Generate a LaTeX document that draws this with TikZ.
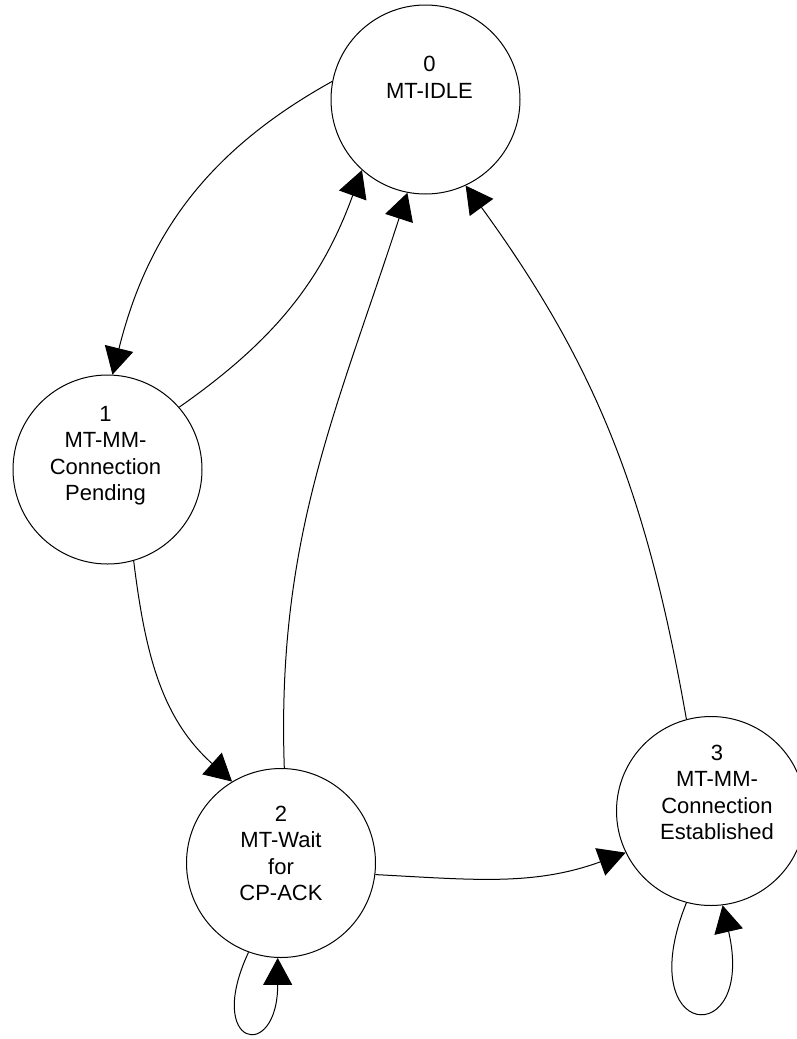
\documentclass[tikz,border=0pt]{standalone}
\usepackage{fontspec}
\setmainfont{Liberation Sans}
\usepackage{tikz}
\usetikzlibrary{arrows.meta,positioning}
\tikzstyle{statenode}=[draw,circle,minimum size=94.5pt,inner sep=0pt,line width=0.5pt]
\tikzstyle{statetext}=[align=center,inner sep=0pt,font=\fontsize{11}{13.25}\selectfont]
\tikzstyle{trans}=[line width=0.5pt,-{Triangle[length=13.5pt,width=14.5pt]}]

\begin{document}
\begin{tikzpicture}[x=0.5pt,y=0.5pt]
\useasboundingbox (0,0) rectangle (797,-1039);
% states
\node [statenode] (s0) at (425.5,-99.5) {};
\node [statenode] (s1) at (107.5,-469.5) {};
\node [statenode] (s2) at (281,-863) {};
\node [statenode] (s3) at (711,-811) {};
\node [statetext] (t0) at ([xshift=2pt,yshift=11pt]s0.center) {0\\MT-IDLE};
\node [statetext] (t1) at ([xshift=-1pt,yshift=7pt]s1.center) {1\\MT-MM-\\Connection\\Pending};
\node [statetext] (t2) at ([yshift=4.75pt]s2.center) {2\\MT-Wait\\for\\CP-ACK};
\node [statetext] (t3) at ([xshift=3pt,yshift=9.2pt]s3.center) {3\\MT-MM-\\Connection\\Established};
% transitions
\draw [trans] (s0.169) to[out=209,in=76] (s1.87);
\draw [trans] (s1.41) to[out=35,in=250] (s0.228);
\draw [trans] (s1.286) to[out=277,in=138] (s2.121);
\draw [trans] (s2.88) to[out=92,in=252] (s0.259);
\draw [trans] (s3.105) to[out=100,in=306] (s0.295);
\draw [trans] (s2.353) to[out=357,in=200] (s3.206);
\draw [trans] (s2.250) .. controls +(245:105) and +(270:105) .. (s2.268);
\draw [trans] (s3.255) .. controls +(248:150) and +(283:150) .. (s3.277);
\end{tikzpicture}
\end{document}
